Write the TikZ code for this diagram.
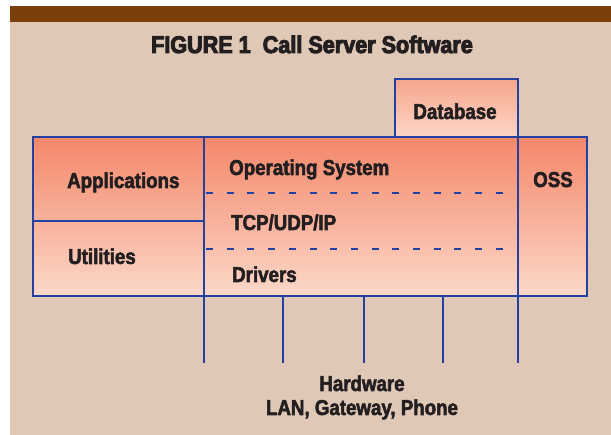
\documentclass[tikz,border=0pt]{standalone}
\usepackage{fontspec}
\newfontfamily\bodyfont{Liberation Sans}[FakeStretch=0.87, BoldFeatures={FakeBold=2.5}]
\newfontfamily\titlefont{Liberation Sans}[FakeStretch=0.9, BoldFeatures={FakeBold=4}]
\definecolor{bgc}{RGB}{224,200,182}
\definecolor{barc}{RGB}{123,63,10}
\definecolor{linec}{RGB}{36,64,160}
\definecolor{maintop}{RGB}{244,135,106}
\definecolor{mainbot}{RGB}{252,216,200}
\definecolor{dbtop}{RGB}{246,166,140}
\definecolor{dbbot}{RGB}{253,214,198}
\definecolor{txtc}{RGB}{35,31,32}
\tikzset{
  region/.style={draw=linec, line width=2.5pt, inner sep=0pt, outer sep=0pt, anchor=north west},
  wire/.style={draw=linec, line width=2.4pt},
  dashline/.style={draw=linec, line width=2.4pt, dash pattern=on 7pt off 13.7pt},
  lbl/.style={font=\bodyfont\bfseries\fontsize{21.5}{24}\selectfont, text=txtc, inner sep=0pt},
  ttl/.style={font=\titlefont\bfseries\fontsize{24}{27}\selectfont, text=txtc, inner sep=0pt},
}
\begin{document}
\begin{tikzpicture}[x=1pt,y=-1pt]
\useasboundingbox (0,0) rectangle (611,435);
\fill[white] (0,0) rectangle (611,435);
\fill[bgc] (10,22) rectangle (611,435);
\fill[barc] (10,6) rectangle (611,22);

\node[ttl, anchor=base] (title) at (312,53) {FIGURE 1\ \ Call Server Software};

% boxes
\node[region, top color=dbtop, bottom color=dbbot, minimum width=123pt, minimum height=58pt] (db) at (395,79) {};
\node[region, top color=maintop, bottom color=mainbot, minimum width=554pt, minimum height=159pt] (main) at (33,137) {};
\node[region, minimum width=171pt, minimum height=84pt] (apps) at (33,137) {};
\node[region, minimum width=171pt, minimum height=75pt] (utils) at (33,221) {};
\node[region, minimum width=314pt, minimum height=159pt] (core) at (204,137) {};
\node[region, minimum width=69pt, minimum height=159pt] (oss) at (518,137) {};

% dashed separators
\coordinate (ds1) at (206,193); \coordinate (de1) at (514,193);
\coordinate (ds2) at (206,249); \coordinate (de2) at (514,249);
\draw[dashline] (ds1) -- (de1);
\draw[dashline] (ds2) -- (de2);

% hardware lines
\coordinate (h0) at (204,363);
\coordinate (h1) at (283,363);
\coordinate (h2) at (364,363);
\coordinate (h3) at (443,363);
\coordinate (h4) at (518,363);
\draw[wire] (core.south west) -- (h0);
\draw[wire] (h1 |- core.south) -- (h1);
\draw[wire] (h2 |- core.south) -- (h2);
\draw[wire] (h3 |- core.south) -- (h3);
\draw[wire] (core.south east) -- (h4);

% labels
\node[lbl, anchor=base west] (tapp) at (67,188) {Applications};
\node[lbl, anchor=base west] (tutil) at (68,264) {Utilities};
\node[lbl, anchor=base west] (tos) at (229,175) {Operating System};
\node[lbl, anchor=base west] (ttcp) at (231,230) {TCP/UDP/IP};
\node[lbl, anchor=base west] (tdrv) at (232,282) {Drivers};
\node[lbl, anchor=base] (toss) at (553,187) {OSS};
\node[lbl, anchor=base] (tdb) at (455,119) {Database};
\node[lbl, anchor=base] (thw) at (362,391) {Hardware};
\node[lbl, anchor=base] (tlan) at (362,415) {LAN, Gateway, Phone};
\end{tikzpicture}
\end{document}
